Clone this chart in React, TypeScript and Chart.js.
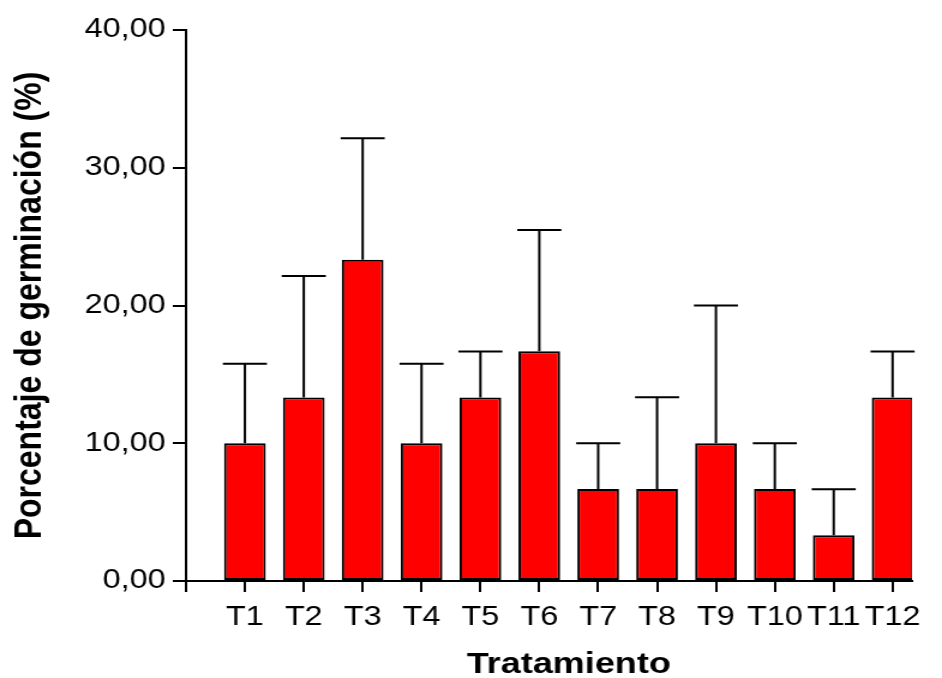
import React, { useEffect, useRef } from 'react';
import { Chart, registerables } from 'chart.js';

Chart.register(...registerables);

const categories = ['T1', 'T2', 'T3', 'T4', 'T5', 'T6', 'T7', 'T8', 'T9', 'T10', 'T11', 'T12'];
const meanValues = [10, 13.33, 23.33, 10, 13.33, 16.67, 6.67, 6.67, 10, 6.67, 3.33, 13.33];
const errorValues = [5.77, 8.82, 8.82, 5.77, 3.33, 8.82, 3.33, 6.67, 10, 3.33, 3.33, 3.33];
const yTickMin = 0;
const yTickMax = 40;
const yTickStep = 10;
const yTitle = 'Porcentaje de germinación (%)';
const xTitle = 'Tratamiento';

const FONT = '"Liberation Sans", Arial, Helvetica, sans-serif';

export default function App() {
  const ref = useRef<HTMLCanvasElement | null>(null);

  useEffect(() => {
    document.body.style.margin = '0';
    document.body.style.overflow = 'hidden';
    const canvas = ref.current;
    if (!canvas) return;

    const errorBars = {
      id: 'errorBars',
      afterDatasetsDraw(chart: any) {
        const ctx = chart.ctx;
        const meta = chart.getDatasetMeta(0);
        const ys = chart.scales.y;
        ctx.save();
        ctx.strokeStyle = '#000';
        ctx.lineWidth = 2;
        meta.data.forEach((bar: any, i: number) => {
          const p = bar.getProps(['x', 'y', 'width'], true);
          const top = ys.getPixelForValue(meanValues[i] + errorValues[i]);
          ctx.beginPath();
          ctx.moveTo(p.x, p.y);
          ctx.lineTo(p.x, top);
          ctx.moveTo(p.x - p.width / 2 - 1, top);
          ctx.lineTo(p.x + p.width / 2 + 1, top);
          ctx.stroke();
        });
        ctx.restore();
      },
    };

    const titles = {
      id: 'titles',
      afterDraw(chart: any) {
        const ctx = chart.ctx;
        const xs = chart.scales.x;
        const area = chart.chartArea;
        ctx.save();
        ctx.fillStyle = '#000';
        ctx.font = `bold 30px ${FONT}`;
        ctx.textAlign = 'center';
        ctx.textBaseline = 'alphabetic';
        const cx = (xs.getPixelForValue(1) + xs.getPixelForValue(categories.length)) / 2;
        ctx.fillText(xTitle, cx, 673);
        ctx.translate(34, (area.top + area.bottom) / 2);
        ctx.rotate(-Math.PI / 2);
        ctx.font = `bold 32px ${FONT}`;
        ctx.fillText(yTitle, 0, 0);
        ctx.restore();
      },
    };

    const chart = new Chart(canvas, {
      type: 'bar',
      data: {
        datasets: [
          {
            data: meanValues.map((v, i) => ({ x: i + 1, y: v })),
            backgroundColor: '#ff0000',
            borderColor: '#000000',
            borderWidth: 2,
            borderSkipped: false,
            categoryPercentage: 1,
            barPercentage: 0.708,
          },
        ],
      },
      options: {
        responsive: false,
        animation: false,
        devicePixelRatio: 1,
        layout: { padding: { top: 30, right: 25, bottom: 0, left: 0 } },
        plugins: {
          legend: { display: false },
          tooltip: { enabled: false },
        },
        scales: {
          x: {
            type: 'linear',
            min: 0,
            max: 12.33,
            offset: false,
            afterFit(scale: any) {
              scale.height = 97;
            },
            border: { display: true, color: '#000', width: 2 },
            grid: {
              offset: false,
              drawOnChartArea: false,
              drawTicks: true,
              tickLength: 11,
              color: '#000',
              lineWidth: 2,
            },
            ticks: {
              stepSize: 1,
              includeBounds: false,
              autoSkip: false,
              maxRotation: 0,
              minRotation: 0,
              padding: 9,
              color: '#000',
              font: { family: FONT, size: 27 },
              callback: (v: any) => {
                const n = Number(v);
                return n >= 1 && n <= categories.length && Number.isInteger(n) ? categories[n - 1] : '';
              },
            },
          },
          y: {
            min: yTickMin,
            max: yTickMax,
            afterFit(scale: any) {
              scale.width = 155;
            },
            border: { display: true, color: '#000', width: 2 },
            grid: {
              drawOnChartArea: false,
              drawTicks: true,
              tickLength: 11,
              color: '#000',
              lineWidth: 2,
            },
            ticks: {
              stepSize: yTickStep,
              padding: 6,
              color: '#000',
              font: { family: FONT, size: 27 },
              callback: (v: any) => Number(v).toFixed(2).replace('.', ','),
            },
          },
        },
      },
      plugins: [errorBars, titles],
    } as any);

    return () => chart.destroy();
  }, []);

  return (
    <div style={{ width: 942, height: 678, overflow: 'hidden' }}>
      <canvas
        ref={ref}
        width={785}
        height={678}
        style={{ width: '942px', height: '678px', display: 'block' }}
      />
    </div>
  );
}
